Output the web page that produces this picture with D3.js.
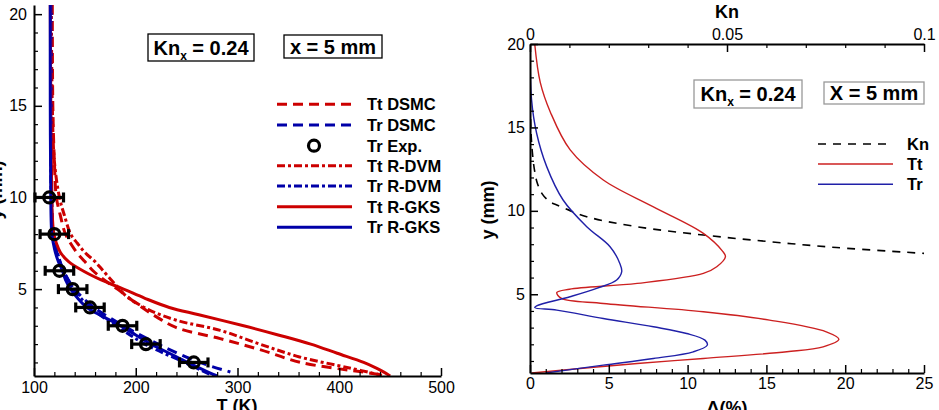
<!DOCTYPE html>
<html><head><meta charset="utf-8">
<script src="https://cdn.jsdelivr.net/npm/d3@7"></script>
<style>
body{margin:0;background:#fff;}
svg{display:block;font-family:"Liberation Sans",Arial,sans-serif;}
</style></head>
<body>
<svg id="chart" width="939" height="410"></svg>
<script>
// ---------- LEFT PANEL DATA (T in K vs y in mm) ----------
const ttDsmcY = [20.5,15,12,10,9,8,7,6.5,6,5.5,5,4.2,3.5,2.9,2.3,1.7,1.0,0.5,0.3];
const ttDsmcT = [118,118.5,120,122,126,131,142,150,158,169,182,201,220,240,283,322,362,420,445];
const trDsmcY = [20.5,15,10,8,7,6,5,4,3,2,1,0.48];
const trDsmcT = [117,117,117.5,119,122.5,129,140,159,188,222,263,293];
const ttDvmY = [20.5,15,12,10,9,8,7.5,7,6.5,6,5,4.6,3.9,3.3,2.75,2,1.3,0.7,0.3];
const ttDvmT = [117,118,120,125,130,136,142.6,150,160,168,184,191,212,240,283,322,361,410,442];
const trDvmY = [20.5,15,10,8,7,6,5,4,3,2,1,0.26];
const trDvmT = [116.5,116.5,117,119,123,129,139,155,181,209,248,276];
const ttGksY = [20.5,15,12,10,9,8,7.5,7,6.5,6,5.5,5,4.5,4,3.6,3,2.5,2,1.5,1,0.7,0.5,0.26];
const ttGksT = [116,116.5,117,117.5,118,119.5,122,126,134,148,166,188,209,233,262,306,340,372,398,424,436,443,450];
const trGksY = [20.5,15,10,8.5,8,7.5,7,6.5,6,5.5,5,4.5,4,3.5,3,2.5,2,1.5,1,0.5,0.26];
const trGksT = [116,116,116.5,117,117.5,119,121,124,128,131,136,143,152,168,185,200,215,233,251,270,280];
const expY = [10,8,6,5,4,3,2,1];
const expT = [115,120,125,138,155,187,210,257];
const expErr = 14;
const leftXTicks = [100,200,300,400,500];
const leftYTicks = [5,10,15,20];
const leftLegend = ["Tt DSMC","Tr DSMC","Tr Exp.","Tt R-DVM","Tr R-DVM","Tt R-GKS","Tr R-GKS"];

// ---------- RIGHT PANEL DATA (Delta % and Kn vs y in mm) ----------
const knY = [20,16,14.5,13.5,12.5,11.7,11.05,10.55,10.35,9.65,9.05,8.55,8.15,7.8,7.45];
const knV = [0,0.0001,0.0003,0.0006,0.0011,0.0018,0.003,0.005,0.0068,0.0144,0.0271,0.044,0.0609,0.0778,0.1];
const dTtY = [20,17.7,15.9,13.65,11.85,10.25,8.65,7.6,7.25,6.65,6.25,5.65,5.3,5.1,4.75,4.45,3.95,3.45,2.75,2.3,1.85,1.55,1.15,0.85,0.28];
const dTtV = [0.3,0.65,1.3,2.55,4.65,7.8,11.0,12.2,12.4,11.85,11.0,6.8,2.5,1.7,2.0,4.65,11.0,15.2,18.8,19.6,18.6,16.3,11.0,6.8,0.1];
const dTrY = [20,16.65,14.65,12.65,10.65,9.05,7.85,6.85,6.35,5.85,5.35,4.85,4.3,4.2,4.05,3.55,3.05,2.65,2.25,1.95,1.55,1.15,0.75,0.28];
const dTrV = [0,0.1,0.42,1.06,2.1,3.6,5.08,5.7,5.82,5.5,4.23,2.54,0.42,0.3,1.7,4.65,7.83,9.94,11.1,11.25,10.36,7.83,4.65,1.0];
const rightXTicks = [0,5,10,15,20,25];
const rightYTicks = [5,10,15,20];
const knTicks = [0,0.05,0.1];
const rightLegend = ["Kn","Tt","Tr"];

// ---------- DRAW ----------
const svg = d3.select("#chart");
const RED = "#cc0000", BLUE = "#0000a8";
const RED2 = "#cc2020", BLUE2 = "#2020a8";

function zip(ys, xs){ return ys.map((y,i)=>({y:y, x:xs[i]})); }

// LEFT
const lx = d3.scaleLinear().domain([100,500]).range([34,441]);
const ly = d3.scaleLinear().domain([0.26,20.5]).range([376,5]);
const L = svg.append("g");
L.append("clipPath").attr("id","clipL").append("rect").attr("x",34).attr("y",0).attr("width",420).attr("height",376);

const lineL = d3.line().x(d=>lx(d.x)).y(d=>ly(d.y)).curve(d3.curveCatmullRom.alpha(0.5));
const leftSeries = [
  {ys:ttDsmcY, xs:ttDsmcT, c:RED, dash:"10,6"},
  {ys:trDsmcY, xs:trDsmcT, c:BLUE, dash:"10,6"},
  {ys:ttDvmY, xs:ttDvmT, c:RED, dash:"8,3,3,3"},
  {ys:trDvmY, xs:trDvmT, c:BLUE, dash:"8,3,3,3"},
  {ys:ttGksY, xs:ttGksT, c:RED, dash:null},
  {ys:trGksY, xs:trGksT, c:BLUE, dash:null}
];
const gl = L.append("g").attr("clip-path","url(#clipL)");
leftSeries.forEach(s=>{
  gl.append("path").datum(zip(s.ys,s.xs)).attr("d",lineL)
    .attr("fill","none").attr("stroke",s.c).attr("stroke-width",3)
    .attr("stroke-dasharray",s.dash);
});
// exp points
const ge = L.append("g").attr("stroke","#000").attr("stroke-width",3.2).attr("fill","none");
expY.forEach((y,i)=>{
  const cx = lx(expT[i]), cy = ly(y);
  const x0 = lx(expT[i]-expErr), x1 = lx(expT[i]+expErr);
  ge.append("line").attr("x1",x0).attr("x2",x1).attr("y1",cy).attr("y2",cy);
  ge.append("line").attr("x1",x0).attr("x2",x0).attr("y1",cy-5).attr("y2",cy+5);
  ge.append("line").attr("x1",x1).attr("x2",x1).attr("y1",cy-5).attr("y2",cy+5);
  ge.append("circle").attr("cx",cx).attr("cy",cy).attr("r",5.5);
});

function styleAxis(g){
  g.selectAll(".domain").attr("stroke","#000").attr("stroke-width",2);
  g.selectAll(".tick line").attr("stroke","#000").attr("stroke-width",1.5);
  g.selectAll(".tick text").attr("fill","#000").style("font-size","16px")
    .style("font-family","'Liberation Sans',Arial,sans-serif");
}
// left axes
const lxa = L.append("g").attr("transform","translate(0,376)")
  .call(d3.axisBottom(lx).tickValues(leftXTicks).tickSizeInner(-8).tickSizeOuter(0).tickPadding(6).tickFormat(d3.format("d")));
styleAxis(lxa);
L.append("g").attr("transform","translate(0,376)")
  .call(d3.axisBottom(lx).tickValues(d3.range(120,500,20).filter(v=>v%100!==0)).tickSizeInner(-4).tickSizeOuter(0).tickFormat(""))
  .call(g=>{g.select(".domain").remove(); g.selectAll("line").attr("stroke","#000").attr("stroke-width",1.2);});
const lya = L.append("g").attr("transform","translate(34,0)")
  .call(d3.axisLeft(ly).tickValues(leftYTicks).tickSizeInner(-8).tickSizeOuter(0).tickPadding(7));
styleAxis(lya);
L.append("g").attr("transform","translate(34,0)")
  .call(d3.axisLeft(ly).tickValues(d3.range(1,21).filter(v=>v%5!==0)).tickSizeInner(-4).tickSizeOuter(0).tickFormat(""))
  .call(g=>{g.select(".domain").remove(); g.selectAll("line").attr("stroke","#000").attr("stroke-width",1.2);});
L.append("text").attr("x",237).attr("y",412).attr("text-anchor","middle")
  .style("font-size","18px").style("font-weight","bold").text("T (K)");
L.append("text").attr("transform","translate(2,190) rotate(-90)").attr("text-anchor","middle")
  .style("font-size","18px").style("font-weight","bold").text("y (mm)");

// annotation boxes
function knBox(g, x, y, w, h, stroke){
  g.append("rect").attr("x",x).attr("y",y).attr("width",w).attr("height",h)
    .attr("fill","#fff").attr("stroke",stroke).attr("stroke-width",1.3);
  const t = g.append("text").attr("x",x+w/2).attr("y",y+h/2+7).attr("text-anchor","middle")
    .style("font-size","20px").style("font-weight","bold");
  t.append("tspan").text("Kn");
  t.append("tspan").attr("dy",5).style("font-size","12px").text("x");
  t.append("tspan").attr("dy",-5).text(" = 0.24");
}
function textBox(g, x, y, w, h, stroke, s){
  g.append("rect").attr("x",x).attr("y",y).attr("width",w).attr("height",h)
    .attr("fill","#fff").attr("stroke",stroke).attr("stroke-width",1.3);
  g.append("text").attr("x",x+w/2).attr("y",y+h/2+7).attr("text-anchor","middle")
    .style("font-size","20px").style("font-weight","bold").text(s);
}
knBox(L,148,34,106,27,"#000");
textBox(L,284,35,98,23,"#000","x = 5 mm");

// left legend
const legRows = [104.3,125,145.7,165.7,186,206.7,227.3];
const legStyles = [
  {c:RED,dash:"10,6"},{c:BLUE,dash:"10,6"},{exp:true},
  {c:RED,dash:"8,3,3,3"},{c:BLUE,dash:"8,3,3,3"},{c:RED,dash:null},{c:BLUE,dash:null}
];
leftLegend.forEach((name,i)=>{
  const st = legStyles[i], yy = legRows[i];
  if(st.exp){
    L.append("circle").attr("cx",314).attr("cy",yy).attr("r",5.5).attr("fill","none")
      .attr("stroke","#000").attr("stroke-width",3.2);
  } else {
    L.append("line").attr("x1",277).attr("x2",352).attr("y1",yy).attr("y2",yy)
      .attr("stroke",st.c).attr("stroke-width",3).attr("stroke-dasharray",st.dash);
  }
  L.append("text").attr("x",367).attr("y",yy+6).style("font-size","16.5px")
    .style("font-weight","bold").text(name);
});

// RIGHT
const rx = d3.scaleLinear().domain([0,25]).range([530,924]);
const rk = d3.scaleLinear().domain([0,0.1]).range([530,924]);
const ry = d3.scaleLinear().domain([0.28,20]).range([373,44]);
const R = svg.append("g");
R.append("clipPath").attr("id","clipR").append("rect").attr("x",530).attr("y",44).attr("width",400).attr("height",329);
const gr = R.append("g").attr("clip-path","url(#clipR)");
const lineR = d3.line().x(d=>rx(d.x)).y(d=>ry(d.y)).curve(d3.curveCatmullRom.alpha(0.5));
const lineK = d3.line().x(d=>rk(d.x)).y(d=>ry(d.y)).curve(d3.curveCatmullRom.alpha(0.5));
gr.append("path").datum(zip(knY,knV)).attr("d",lineK).attr("fill","none")
  .attr("stroke","#000").attr("stroke-width",1.6).attr("stroke-dasharray","8,7");
gr.append("path").datum(zip(dTtY,dTtV)).attr("d",lineR).attr("fill","none")
  .attr("stroke",RED2).attr("stroke-width",1.4);
gr.append("path").datum(zip(dTrY,dTrV)).attr("d",lineR).attr("fill","none")
  .attr("stroke",BLUE2).attr("stroke-width",1.4);

const rxa = R.append("g").attr("transform","translate(0,373)")
  .call(d3.axisBottom(rx).tickValues(rightXTicks).tickSizeInner(-8).tickSizeOuter(0).tickPadding(5));
styleAxis(rxa);
R.append("g").attr("transform","translate(0,373)")
  .call(d3.axisBottom(rx).tickValues(d3.range(1,25).filter(v=>v%5!==0)).tickSizeInner(-4).tickSizeOuter(0).tickFormat(""))
  .call(g=>{g.select(".domain").remove(); g.selectAll("line").attr("stroke","#000").attr("stroke-width",1.2);});
const rka = R.append("g").attr("transform","translate(0,44)")
  .call(d3.axisTop(rk).tickValues(knTicks).tickSizeInner(-8).tickSizeOuter(0).tickPadding(4).tickFormat(d=>d===0?"0":d3.format("~g")(d)));
styleAxis(rka);
R.append("g").attr("transform","translate(0,44)")
  .call(d3.axisTop(rk).tickValues([0.01,0.02,0.03,0.04,0.06,0.07,0.08,0.09]).tickSizeInner(-4).tickSizeOuter(0).tickFormat(""))
  .call(g=>{g.select(".domain").remove(); g.selectAll("line").attr("stroke","#000").attr("stroke-width",1.2);});
const rya = R.append("g").attr("transform","translate(530,0)")
  .call(d3.axisLeft(ry).tickValues(rightYTicks).tickSizeInner(-8).tickSizeOuter(0).tickPadding(5));
styleAxis(rya);
R.append("g").attr("transform","translate(530,0)")
  .call(d3.axisLeft(ry).tickValues(d3.range(1,20).filter(v=>v%5!==0)).tickSizeInner(-4).tickSizeOuter(0).tickFormat(""))
  .call(g=>{g.select(".domain").remove(); g.selectAll("line").attr("stroke","#000").attr("stroke-width",1.2);});
R.append("text").attr("x",727).attr("y",18).attr("text-anchor","middle")
  .style("font-size","18px").style("font-weight","bold").text("Kn");
R.append("text").attr("x",727).attr("y",414).attr("text-anchor","middle")
  .style("font-size","18px").style("font-weight","bold").text("Δ(%)");
R.append("text").attr("transform","translate(494,210) rotate(-90)").attr("text-anchor","middle")
  .style("font-size","18px").style("font-weight","bold").text("y (mm)");

knBox(R,694,80,108,28,"#999");
textBox(R,824,82,100,22,"#999","X = 5 mm");

const rLegRows = [144,164,184.3];
const rLegSt = [{c:"#000",dash:"8,7",w:1.6},{c:RED2,dash:null,w:1.4},{c:BLUE2,dash:null,w:1.4}];
rightLegend.forEach((name,i)=>{
  const yy = rLegRows[i], st = rLegSt[i];
  R.append("line").attr("x1",818).attr("x2",893).attr("y1",yy).attr("y2",yy)
    .attr("stroke",st.c).attr("stroke-width",st.w).attr("stroke-dasharray",st.dash);
  R.append("text").attr("x",907).attr("y",yy+6).style("font-size","16.5px")
    .style("font-weight","bold").text(name);
});
</script>
</body></html>
